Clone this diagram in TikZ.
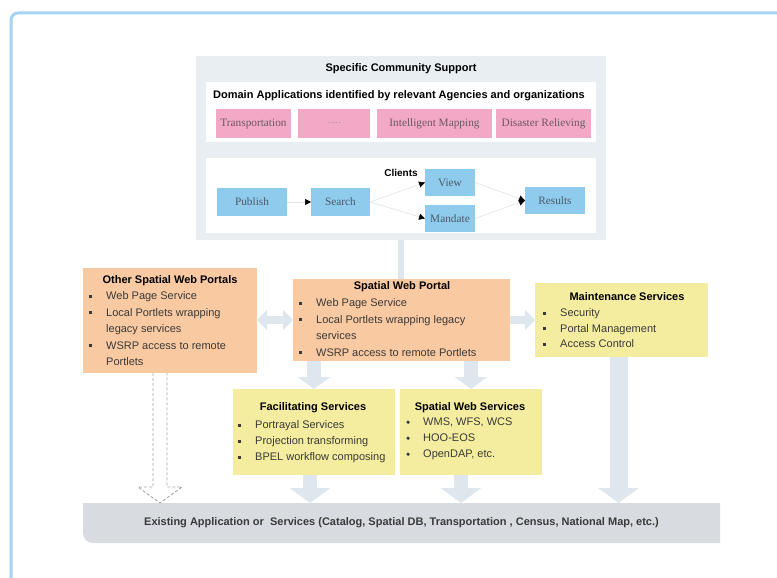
\documentclass[tikz,border=0pt]{standalone}
\usepackage{fontspec}
\setmainfont{Liberation Sans}
\newfontfamily\seriff{Liberation Serif}
\usetikzlibrary{arrows.meta,calc,backgrounds}
\definecolor{panelc}{HTML}{E9EEF3}
\definecolor{pinkc}{HTML}{F3A8C6}
\definecolor{bluec}{HTML}{8FCBEC}
\definecolor{peachc}{HTML}{F9C9A1}
\definecolor{yellowc}{HTML}{F4EDA0}
\definecolor{arrc}{HTML}{DFE7EE}
\definecolor{barc}{HTML}{D8DBE0}
\definecolor{framec}{HTML}{A6D3F2}
\definecolor{txtc}{HTML}{3A3A3A}
\definecolor{pinktxt}{HTML}{6A5A62}
\definecolor{bluetxt}{HTML}{4C5A66}
\newcommand{\sqb}{\makebox[17pt][l]{\rule[1.8pt]{3pt}{3pt}}}
\newcommand{\dmb}{\makebox[17pt][l]{\raisebox{1.4pt}{\rotatebox{45}{\rule{2.6pt}{2.6pt}}}}}
\newcommand{\cnt}{\hspace*{17pt}}
\begin{document}
\begin{tikzpicture}[x=1pt,y=-1pt,
  box/.style={anchor=north west, inner sep=0pt, outer sep=0pt},
  ttl/.style={font=\fontsize{11}{13}\selectfont\bfseries, text=black, inner sep=0pt},
  lst/.style={anchor=north west, inner sep=0pt, align=left, font=\fontsize{11}{16.5}\selectfont, text=txtc},
  pbox/.style={box, fill=pinkc, minimum height=29pt, font=\seriff\fontsize{11.3}{13}\selectfont, text=pinktxt},
  bbox/.style={box, fill=bluec, font=\seriff\fontsize{11.3}{13}\selectfont, text=bluetxt},
  flow/.style={draw=gray!22, line width=0.6pt, -{Triangle[length=6pt,width=6pt,color=black]}},
  conn/.style={draw=arrc, line width=6pt},
  downarr/.style={draw=arrc, line width=14pt, -{Triangle[width=32pt,length=12pt]}},
  bigdown/.style={draw=arrc, line width=16pt, -{Triangle[width=40pt,length=15pt]}},
  sidearr/.style={draw=arrc, line width=8pt, -{Triangle[width=20pt,length=10pt]}},
  dblarr/.style={draw=arrc, line width=8pt, {Triangle[width=20pt,length=10pt]}-{Triangle[width=20pt,length=10pt]}},
  dasharr/.style={draw=gray!70, fill=white, line width=0.9pt, dash pattern=on 3pt off 2pt}
]
\useasboundingbox (0,0) rectangle (777,578);
\clip (0,0) rectangle (777,578);
\draw[framec, line width=3pt, rounded corners=7pt] (800,13) -- (11,13) -- (11,600);

% top panel
\node[box, fill=panelc, minimum width=410pt, minimum height=184pt] (csp) at (196,56) {};
\node[ttl] (csptitle) at (401,69) {Specific Community Support};
\node[box, fill=white, minimum width=390pt, minimum height=60pt] (dom) at (206,82) {};
\node[ttl] (domtitle) at (399,96) {Domain Applications identified by relevant Agencies and organizations};
\node[pbox, minimum width=75pt] (tra) at (216,109) {Transportation};
\node[pbox, minimum width=72pt, text=pinktxt!70] (dots) at (298,109) {\fontsize{9}{10}\selectfont .\kern0.6pt.\kern0.6pt.\kern0.6pt.\kern0.6pt.};
\node[pbox, minimum width=115pt] (imap) at (377,109) {Intelligent Mapping};
\node[pbox, minimum width=95pt] (dis) at (496,109) {Disaster Relieving};

\node[box, fill=white, minimum width=390pt, minimum height=75pt] (cli) at (206,158) {};
\node[ttl, font=\fontsize{10}{12}\selectfont\bfseries] (clients) at (401,173) {Clients};
\node[bbox, minimum width=70pt, minimum height=28pt] (pub) at (217,188) {Publish};
\node[bbox, minimum width=59pt, minimum height=28pt] (sea) at (311,188) {Search};
\node[bbox, minimum width=50pt, minimum height=27pt] (vie) at (425,169) {View};
\node[bbox, minimum width=50pt, minimum height=27pt] (man) at (425,205) {Mandate};
\node[bbox, minimum width=60pt, minimum height=27pt] (res) at (525,187) {Results};
\draw[flow] (pub) -- (sea);
\draw[flow] (sea.east) -- (vie.west);
\draw[flow] (sea.east) -- (man.west);
\draw[flow] (vie.east) -- (res.west);
\draw[flow] (man.east) -- (res.west);

% portal row
\node[box, fill=peachc, minimum width=174pt, minimum height=105pt] (oth) at (83,268) {};
\node[ttl] (othtitle) at (170,281) {Other Spatial Web Portals};
\node[lst] (othlist) at (89,291.5) {\sqb Web Page Service\\ \sqb Local Portlets wrapping\\ \cnt legacy services\\ \sqb WSRP access to remote\\ \cnt Portlets};

\node[box, fill=peachc, minimum width=217pt, minimum height=82pt] (swp) at (293,279) {};
\node[ttl] (swptitle) at (402,287) {Spatial Web Portal};
\node[lst] (swplist) at (299,298.5) {\sqb Web Page Service\\ \sqb Local Portlets wrapping legacy\\ \cnt services\\ \sqb WSRP access to remote Portlets};

\node[box, fill=yellowc, minimum width=173pt, minimum height=74pt] (mnt) at (535,283) {};
\node[ttl] (mnttitle) at (627,297) {Maintenance Services};
\node[lst, font=\fontsize{11}{15.5}\selectfont] (mntlist) at (543,308.5) {\sqb Security\\ \sqb Portal Management\\ \sqb Access Control};

\node[box, fill=yellowc, minimum width=162pt, minimum height=86pt] (fac) at (233,389) {};
\node[ttl] (factitle) at (313,408) {Facilitating Services};
\node[lst, font=\fontsize{11}{16}\selectfont] (faclist) at (238,420.5) {\sqb Portrayal Services\\ \sqb Projection transforming\\ \sqb BPEL workflow composing};

\node[box, fill=yellowc, minimum width=142pt, minimum height=86pt] (sws) at (400,389) {};
\node[ttl] (swstitle) at (470,408) {Spatial Web Services};
\node[lst, font=\fontsize{11}{16}\selectfont] (swslist) at (406,417.5) {\dmb WMS, WFS, WCS\\ \dmb HOO-EOS\\ \dmb OpenDAP, etc.};

% bottom bar
\node[box, minimum width=637pt, minimum height=40pt, font=\fontsize{11}{13}\selectfont\bfseries, text=txtc] (bar) at (83,503) {Existing Application or\ \ Services (Catalog, Spatial DB, Transportation , Census, National Map, etc.)};
\begin{scope}[on background layer]
\fill[white] (0,0) rectangle (777,578);
\fill[barc] (bar.north east) -- (bar.south east) [rounded corners=10pt] -- (bar.south west) [sharp corners] -- (bar.north west) -- cycle;
\end{scope}

% connectors
\draw[conn] (csp.south) -- (csp.south |- swp.north);
\draw[dblarr] (swp.west -| oth.east) -- (swp.west);
\draw[sidearr] (swp.east) -- (swp.east -| mnt.west);
\draw[downarr] (fac.north |- swp.south) -- (fac.north);
\draw[downarr] (sws.north |- swp.south) -- (sws.north);
\draw[bigdown, line width=14pt] ([xshift=-4pt]fac.south) -- ([xshift=-4pt]fac.south |- bar.north);
\draw[bigdown, line width=14pt] ([xshift=-10pt]sws.south) -- ([xshift=-10pt]sws.south |- bar.north);
\draw[bigdown, line width=18pt] ([xshift=-3pt]mnt.south) -- ([xshift=-3pt]mnt.south |- bar.north);
\coordinate (dtop) at ($(oth.south)+(-10,0)$);
\coordinate (dtip) at (dtop |- bar.north);
\draw[dasharr] ($(dtop)+(-7,0)$) -- ($(dtip)+(-7,-16)$) -- ($(dtip)+(-22,-16)$) -- (dtip) -- ($(dtip)+(22,-16)$) -- ($(dtip)+(7,-16)$) -- ($(dtop)+(7,0)$);
\end{tikzpicture}
\end{document}
